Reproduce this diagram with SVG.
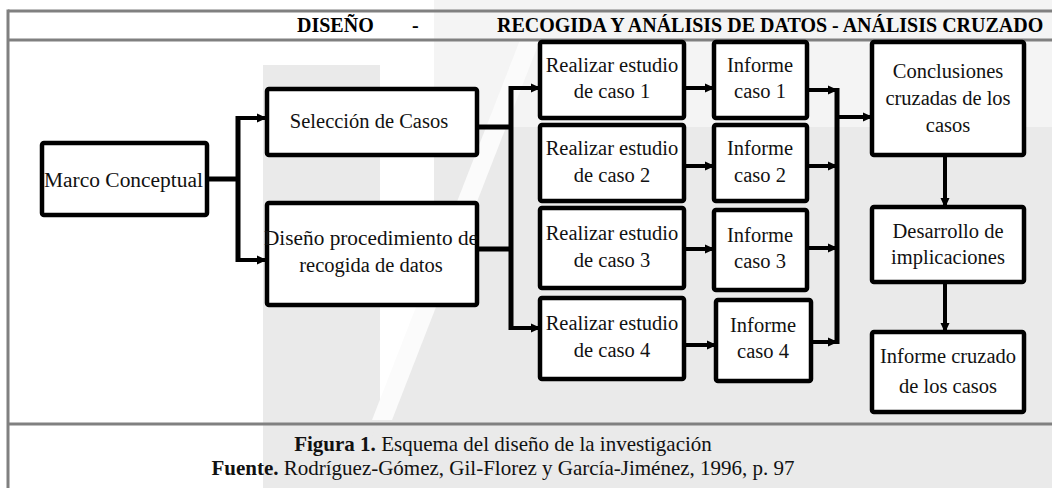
<svg xmlns="http://www.w3.org/2000/svg" width="1052" height="488" viewBox="0 0 1052 488">
  <defs>
    <marker id="ah" markerUnits="userSpaceOnUse" markerWidth="10" markerHeight="10" refX="9" refY="5" orient="auto">
      <path d="M0,0.5 L10,5 L0,9.5 z" fill="#000"/>
    </marker>
    <style>
      .box { fill: #fff; stroke: #000; stroke-width: 4.5; }
      .t { font-family: "Liberation Serif", "Times New Roman", serif; font-size: 20.5px; fill: #111; }
      .c { text-anchor: middle; }
      .h { font-family: "Liberation Serif", "Times New Roman", serif; font-size: 20px; font-weight: bold; fill: #000; }
      .cap { font-family: "Liberation Serif", "Times New Roman", serif; font-size: 21px; fill: #111; text-anchor: middle; }
      .grid { stroke: #808080; stroke-width: 3; fill: none; }
      .ln { stroke: #000; stroke-width: 5; fill: none; }
      .ar { stroke: #000; stroke-width: 4; fill: none; marker-end: url(#ah); }
      .wm { fill: #eaeaea; }
      .wm2 { fill: #f4f4f4; }
      .wh { fill: #fbfbfb; }
    </style>
  </defs>
  <rect width="1052" height="488" fill="#fff"/>
  <g id="watermark">
    <rect class="wm" x="263" y="65" width="117" height="423"/>
    <polygon class="wm2" points="434,0 1052,0 1052,127 434,127"/>
    <polygon class="wm" points="434,127 1052,127 1052,488 350,488 434,290"/>
    <polygon class="wh" points="520,40 540,40 392,420 372,420"/>
  </g>
  <g id="frame">
    <line class="grid" x1="8" y1="11" x2="1052" y2="11"/>
    <line class="grid" x1="8" y1="40" x2="1052" y2="40"/>
    <line class="grid" x1="8" y1="424" x2="1052" y2="424"/>
    <line class="grid" x1="8" y1="9.5" x2="8" y2="488"/>
  </g>
  <g id="header">
    <text class="h" x="297" y="32">DISEÑO</text>
    <text class="h" x="412" y="32">-</text>
    <text class="h" x="497" y="32">RECOGIDA Y ANÁLISIS DE DATOS - ANÁLISIS CRUZADO</text>
  </g>
  <g id="connectors">
    <line class="ln" x1="207" y1="179" x2="238" y2="179" stroke-width="6"/>
    <line class="ln" x1="238" y1="116" x2="238" y2="262"/>
    <line class="ar" x1="236" y1="118" x2="266" y2="118"/>
    <line class="ar" x1="236" y1="260" x2="266" y2="260"/>
    <line class="ln" x1="477" y1="127" x2="511" y2="127"/>
    <line class="ln" x1="477" y1="249" x2="511" y2="249"/>
    <line class="ln" x1="511" y1="86" x2="511" y2="330" stroke-width="6"/>
    <line class="ar" x1="509" y1="88" x2="540" y2="88"/>
    <line class="ar" x1="509" y1="328" x2="540" y2="328"/>
    <line class="ar" x1="684" y1="88" x2="714" y2="88"/>
    <line class="ar" x1="684" y1="166" x2="714" y2="166"/>
    <line class="ar" x1="684" y1="249" x2="714" y2="249"/>
    <line class="ar" x1="684" y1="345" x2="716" y2="345"/>
    <line class="ar" x1="807" y1="90" x2="837" y2="90"/>
    <line class="ar" x1="807" y1="166" x2="837" y2="166"/>
    <line class="ar" x1="807" y1="248" x2="837" y2="248"/>
    <line class="ar" x1="811" y1="342" x2="837" y2="342"/>
    <line class="ln" x1="837" y1="88" x2="837" y2="344"/>
    <line class="ar" x1="835" y1="117" x2="872" y2="117"/>
    <line class="ar" x1="945" y1="155" x2="945" y2="207"/>
    <line class="ar" x1="945" y1="282" x2="945" y2="332"/>
  </g>
  <g id="marco">
    <rect class="box" x="42" y="143" width="165" height="72" rx="2"/>
    <text class="t" x="44" y="187" textLength="159" lengthAdjust="spacingAndGlyphs">Marco Conceptual</text>
  </g>
  <g id="seleccion">
    <rect class="box" x="267" y="89" width="210" height="66" rx="2"/>
    <text class="t c" x="369" y="128">Selección de Casos</text>
  </g>
  <g id="diseno">
    <rect class="box" x="267" y="203" width="210" height="102" rx="2"/>
    <text class="t c" x="371" y="245" textLength="214" lengthAdjust="spacingAndGlyphs">Diseño procedimiento de</text>
    <text class="t c" x="371" y="272">recogida de datos</text>
  </g>
  <g id="realizar1">
    <rect class="box" x="540" y="42" width="144" height="76" rx="2"/>
    <text class="t c" x="612" y="72">Realizar estudio</text>
    <text class="t c" x="612" y="98">de caso 1</text>
  </g>
  <g id="realizar2">
    <rect class="box" x="540" y="125" width="144" height="76" rx="2"/>
    <text class="t c" x="612" y="155">Realizar estudio</text>
    <text class="t c" x="612" y="182">de caso 2</text>
  </g>
  <g id="realizar3">
    <rect class="box" x="540" y="208" width="144" height="80" rx="2"/>
    <text class="t c" x="612" y="240">Realizar estudio</text>
    <text class="t c" x="612" y="267">de caso 3</text>
  </g>
  <g id="realizar4">
    <rect class="box" x="540" y="298" width="144" height="81" rx="2"/>
    <text class="t c" x="612" y="330">Realizar estudio</text>
    <text class="t c" x="612" y="357">de caso 4</text>
  </g>
  <g id="informe1">
    <rect class="box" x="714" y="42" width="93" height="76" rx="2"/>
    <text class="t c" x="760" y="72">Informe</text>
    <text class="t c" x="760" y="98">caso 1</text>
  </g>
  <g id="informe2">
    <rect class="box" x="714" y="125" width="93" height="76" rx="2"/>
    <text class="t c" x="760" y="155">Informe</text>
    <text class="t c" x="760" y="182">caso 2</text>
  </g>
  <g id="informe3">
    <rect class="box" x="714" y="210" width="93" height="80" rx="2"/>
    <text class="t c" x="760" y="242">Informe</text>
    <text class="t c" x="760" y="268">caso 3</text>
  </g>
  <g id="informe4">
    <rect class="box" x="716" y="300" width="95" height="81" rx="2"/>
    <text class="t c" x="763" y="332">Informe</text>
    <text class="t c" x="763" y="358">caso 4</text>
  </g>
  <g id="conclusiones">
    <rect class="box" x="872" y="42" width="152" height="113" rx="2"/>
    <text class="t c" x="948" y="78">Conclusiones</text>
    <text class="t c" x="948" y="105">cruzadas de los</text>
    <text class="t c" x="948" y="132">casos</text>
  </g>
  <g id="desarrollo">
    <rect class="box" x="872" y="207" width="152" height="75" rx="2"/>
    <text class="t c" x="948" y="238">Desarrollo de</text>
    <text class="t c" x="948" y="264">implicaciones</text>
  </g>
  <g id="informe-cruzado">
    <rect class="box" x="872" y="332" width="152" height="80" rx="2"/>
    <text class="t c" x="948" y="363">Informe cruzado</text>
    <text class="t c" x="948" y="393">de los casos</text>
  </g>
  <g id="caption">
    <text class="cap" x="503" y="451"><tspan font-weight="bold">Figura 1.</tspan> Esquema del diseño de la investigación</text>
    <text class="cap" x="503" y="475"><tspan font-weight="bold">Fuente.</tspan> Rodríguez-Gómez, Gil-Florez y García-Jiménez, 1996, p. 97</text>
  </g>
</svg>
